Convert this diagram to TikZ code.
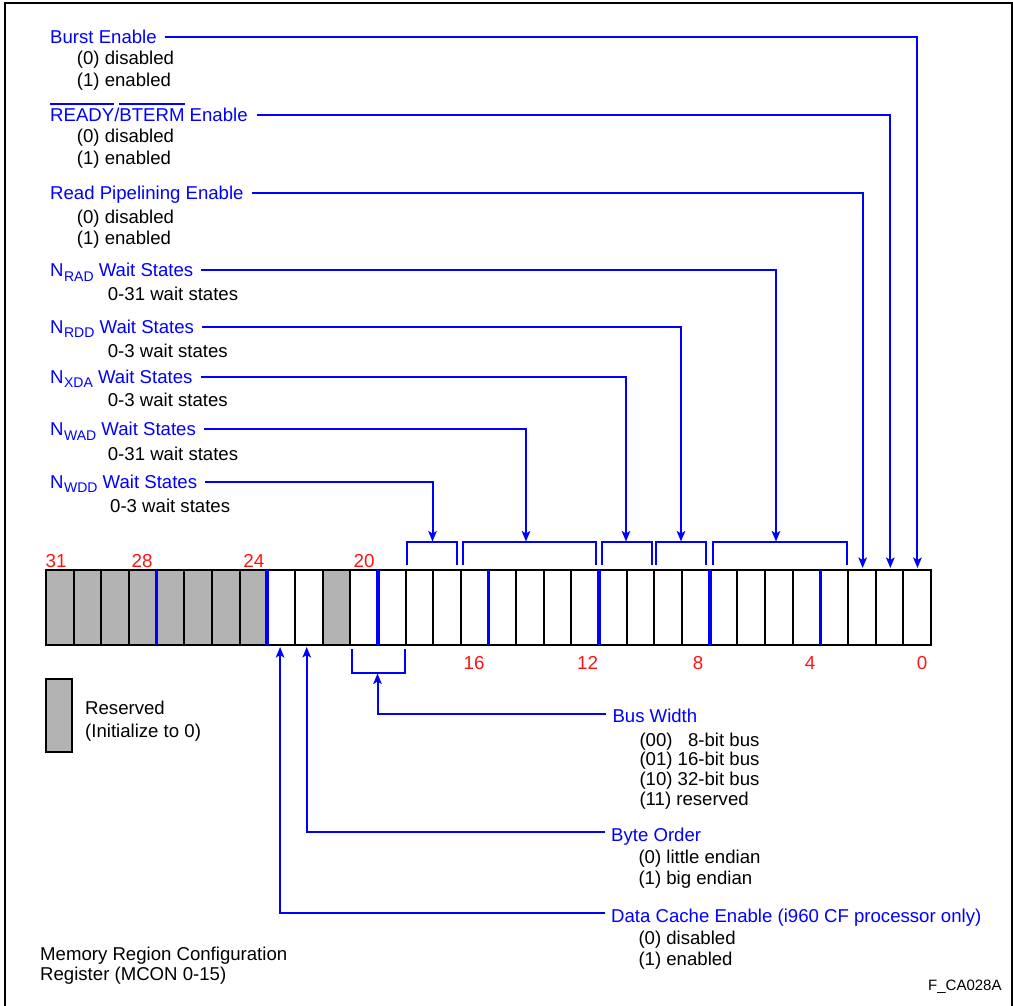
\documentclass[tikz,border=0pt]{standalone}
\usepackage{fontspec}
\setmainfont{Liberation Sans}
\usetikzlibrary{arrows.meta,calc}
\definecolor{lblue}{RGB}{0,0,255}
\definecolor{lred}{RGB}{255,20,20}
\definecolor{rgray}{RGB}{179,179,179}
\newcommand\ovbar[1]{\vbox{\hrule height 1.9pt\kern 3.1pt\hbox{#1}}}
\newcommand\lowsub[1]{\kern0.5pt\raisebox{-4.5pt}{\fontsize{14}{14}\selectfont #1}}
\begin{document}
\begin{tikzpicture}[x=1pt,y=-1pt,
  txt/.style={anchor=west,inner sep=0pt,text height=13.3pt,text depth=0pt,font=\fontsize{18.6}{22}\selectfont},
  lbl/.style={txt,text=lblue},
  desc/.style={txt,text=black},
  num/.style={inner sep=0pt,text height=13.3pt,text depth=0pt,font=\fontsize{18.8}{22}\selectfont,text=lred},
  cellbox/.style={draw=black,line width=2pt,minimum width=27.656pt,minimum height=75pt,inner sep=0pt,outer sep=0pt},
  conn/.style={draw=lblue,line width=2pt,-{Stealth[length=10.5pt,width=8.5pt,inset=2.5pt]}},
  brk/.style={draw=lblue,line width=2pt},
  nib/.style={draw=lblue,line width=3.6pt}
]
\useasboundingbox (0,0) rectangle (1013,1005);
% frame
\draw[line width=2pt] (5.3,1006) -- (5.3,2.7) -- (1011.5,2.7) -- (1011.5,1006);

% register cells
\foreach \i in {0,...,31}{
  \pgfmathtruncatemacro{\bitno}{31-\i}
  \ifnum\bitno>23 \def\cf{rgray}\else\ifnum\bitno=21 \def\cf{rgray}\else\def\cf{white}\fi\fi
  \node[cellbox,fill=\cf] (c\bitno) at ({46+27.656*(\i+0.5)},607.5) {};
}
\foreach \bitno in {27,23,19,15,11,7,3}
  \draw[nib] (c\bitno.north west) -- (c\bitno.south west);

% bit numbers
\node[num] (n31) at (56.2,560.8) {31};
\node[num] (n28) at (142.2,560.8) {28};
\node[num] (n24) at (253.8,560.8) {24};
\node[num] (n20) at (364.2,560.8) {20};
\node[num] (n16) at (474.2,662.5) {16};
\node[num] (n12) at (587.7,662.5) {12};
\node[num] (n8) at (698,662.5) {8};
\node[num] (n4) at (810.2,662.5) {4};
\node[num] (n0) at (922.2,662.5) {0};

% top brackets
\draw[brk] ($(c18.north west)+(1.5,-5)$) -- ++(0,-23) -| ($(c17.north east)+(-4,-5)$);
\draw[brk] ($(c16.north west)+(2.5,-5)$) -- ++(0,-23) -| ($(c12.north east)+(-3,-5)$);
\draw[brk] ($(c11.north west)+(2.5,-5)$) -- ++(0,-23) -| ($(c10.north east)+(-2.5,-5)$);
\draw[brk] ($(c9.north west)+(1.5,-5)$) -- ++(0,-23) -| ($(c8.north east)+(-3.5,-5)$);
\draw[brk] ($(c7.north west)+(2.8,-5)$) -- ++(0,-23) -| ($(c3.north east)+(-1,-5)$);

\coordinate (tWDD) at (432.5,541.5);
\coordinate (tWAD) at (526,541.5);
\coordinate (tXDA) at (626,541.5);
\coordinate (tRDD) at (681,541.5);
\coordinate (tRAD) at (776,541.5);
\coordinate (t2) at ($(c2.north)+(0.8,-2)$);
\coordinate (t1) at ($(c1.north)+(0.8,-2)$);
\coordinate (t0) at ($(c0.north)+(0.3,-2)$);

% top labels
\node[lbl] (lBurst) at (50,36.6) {Burst Enable};
\node[desc] (dBurst0) at (76.7,57.5) {(0) disabled};
\node[desc] (dBurst1) at (76.7,79.8) {(1) enabled};
\node[lbl] (lReady) at (50,114.5) {\ovbar{READY}/\ovbar{BTERM} Enable};
\node[desc] (dReady0) at (76.7,136) {(0) disabled};
\node[desc] (dReady1) at (76.7,157.8) {(1) enabled};
\node[lbl] (lPipe) at (50,193.3) {Read Pipelining Enable};
\node[desc] (dPipe0) at (76.7,216.7) {(0) disabled};
\node[desc] (dPipe1) at (76.7,238.3) {(1) enabled};
\node[lbl] (lRAD) at (50,270) {N\lowsub{RAD} Wait States};
\node[desc] (dRAD) at (107.7,294) {0-31 wait states};
\node[lbl] (lRDD) at (50,326.5) {N\lowsub{RDD} Wait States};
\node[desc] (dRDD) at (107.7,350.8) {0-3 wait states};
\node[lbl] (lXDA) at (50,376.5) {N\lowsub{XDA} Wait States};
\node[desc] (dXDA) at (107.7,400.2) {0-3 wait states};
\node[lbl] (lWAD) at (50,429.2) {N\lowsub{WAD} Wait States};
\node[desc] (dWAD) at (107.7,454.2) {0-31 wait states};
\node[lbl] (lWDD) at (50,481.8) {N\lowsub{WDD} Wait States};
\node[desc] (dWDD) at (110,506.2) {0-3 wait states};

% top connectors
\draw[conn] ($(lBurst.east)+(8,0)$) -| (t0);
\draw[conn] ($(lReady.east)+(9,0)$) -| (t1);
\draw[conn] ($(lPipe.east)+(8,0)$) -| (t2);
\draw[conn] ($(lRAD.east)+(8,0)$) -| (tRAD);
\draw[conn] ($(lRDD.east)+(8,0)$) -| (tRDD);
\draw[conn] ($(lXDA.east)+(8,0)$) -| (tXDA);
\draw[conn] ($(lWAD.east)+(8,0)$) -| (tWAD);
\draw[conn] ($(lWDD.east)+(8,0)$) -| (tWDD);

% bus width bracket
\draw[brk] ($(c20.south west)+(2,4)$) -- ++(0,24) -| ($(c19.south east)+(-0.5,4)$);
\coordinate (tBus) at (377.5,673.5);

% bottom labels
\node[lbl] (lBus) at (612.3,716) {Bus Width};
\node[desc] (dBus0) at (639.3,739.7) {(00) \hphantom{0}8-bit bus};
\node[desc] (dBus1) at (639.3,759.2) {(01) 16-bit bus};
\node[desc] (dBus2) at (639.3,779.2) {(10) 32-bit bus};
\node[desc] (dBus3) at (639.3,799.2) {(11) reserved};
\node[lbl] (lByte) at (611,835) {Byte Order};
\node[desc] (dByte0) at (638.3,856.5) {(0) little endian};
\node[desc] (dByte1) at (638.3,877.5) {(1) big endian};
\node[lbl] (lCache) at (611,915.7) {Data Cache Enable (i960 CF processor only)};
\node[desc] (dCache0) at (638.3,938) {(0) disabled};
\node[desc] (dCache1) at (638.3,959) {(1) enabled};

% bottom connectors
\draw[conn] ($(lBus.west)+(-6,-2)$) -| (tBus);
\draw[conn] ($(lByte.west)+(-6,-3)$) -| ($(c22.south)+(-2,2)$);
\draw[conn] ($(lCache.west)+(-6,-2.5)$) -| ($(c23.south)+(-1,2)$);

% legend
\node[draw=black,line width=2pt,fill=rgray,minimum width=26.5pt,minimum height=73pt,inner sep=0pt,outer sep=0pt] (legend) at (59,715.5) {};
\node[desc] (res1) at (85,708) {Reserved};
\node[desc] (res2) at (85,731) {(Initialize to 0)};

\node[desc] (mrc1) at (40,954) {Memory Region Configuration};
\node[desc] (mrc2) at (40,974) {Register (MCON 0-15)};
\node[txt,font=\fontsize{15}{15}\selectfont,text height=10.7pt] (fig) at (928,985) {F\_CA028A};
\end{tikzpicture}
\end{document}
